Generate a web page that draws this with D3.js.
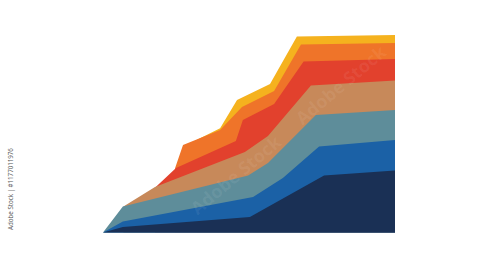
<!DOCTYPE html>
<html><head><meta charset="utf-8">
<script src="https://cdn.jsdelivr.net/npm/d3@7"></script>
<style>html,body{margin:0;padding:0;background:#fff;overflow:hidden}</style>
</head><body>
<svg id="chart" width="500" height="273"></svg>
<script>
// Layer names (back to front order: top layer drawn first)
const layerNames = ["yellow","orange","red","tan","teal","blue","navy"];
// Top boundary points of each layer [x, y] in data units (x 0-100, y 0-100)
const yellow = [[32.2,47.0],[40.1,52.8],[45.9,67.1],[57.2,75.2],[66.4,99.2],[100,100]];
const orange = [[24.7,32.7],[27.4,44.3],[40.1,51.9],[47.6,63.5],[58.6,71.6],[67.8,95.2],[100,96.0]];
const red    = [[17.8,22.6],[25.0,32.7],[45.5,46.3],[47.9,57.0],[58.6,65.1],[68.7,86.6],[100,87.8]];
const tan    = [[7.0,13.2],[17.8,23.0],[48.6,40.8],[56.5,48.9],[71.2,74.4],[100,77.0]];
const teal   = [[0,0],[6.8,13.2],[49.7,28.9],[56.5,35.2],[72.9,59.5],[100,62.0]];
const blue   = [[0,0],[6.8,5.6],[51.4,18.0],[61.6,27.6],[74.0,43.5],[100,46.8]];
const navy   = [[0,0],[6.8,2.8],[50.3,7.8],[75.7,28.9],[100,31.4]];
const layerData = [yellow, orange, red, tan, teal, blue, navy];
const layerColors = ["#F5B21E","#EF7429","#E2412D","#C7895A","#5E8D9A","#1B61A6","#1A3055"];
const watermarkId = "Adobe Stock | #1177011976";
const watermarkText = "Adobe Stock";

const svg = d3.select("#chart");
const x = d3.scaleLinear().domain([0,100]).range([103,395]);
const y = d3.scaleLinear().domain([0,100]).range([232.5,35]);

const area = d3.area()
  .x(d => x(d[0]))
  .y0(y(0))
  .y1(d => y(d[1]))
  .curve(d3.curveLinear);

svg.append("g").selectAll("path")
  .data(layerData)
  .join("path")
  .attr("d", area)
  .attr("fill", (d,i) => layerColors[i])
  .attr("class", (d,i) => layerNames[i]);

// faint diagonal watermarks
const marks = [[240,180],[345,90],[120,120]];
svg.append("g").selectAll("text")
  .data(marks)
  .join("text")
  .attr("transform", d => `translate(${d[0]},${d[1]}) rotate(-40)`)
  .attr("text-anchor","middle")
  .attr("font-family","Open Sans, sans-serif")
  .attr("font-weight","bold")
  .attr("font-size",18)
  .attr("fill","#ffffff")
  .attr("fill-opacity",0.07)
  .text(watermarkText);

// vertical id text on left
svg.append("text")
  .attr("transform","translate(11,189) rotate(-90)")
  .attr("text-anchor","middle")
  .attr("dominant-baseline","middle")
  .attr("font-family","Open Sans, sans-serif")
  .attr("font-size",6.2)
  .attr("fill","#555")
  .text(watermarkId);
</script>
</body></html>
